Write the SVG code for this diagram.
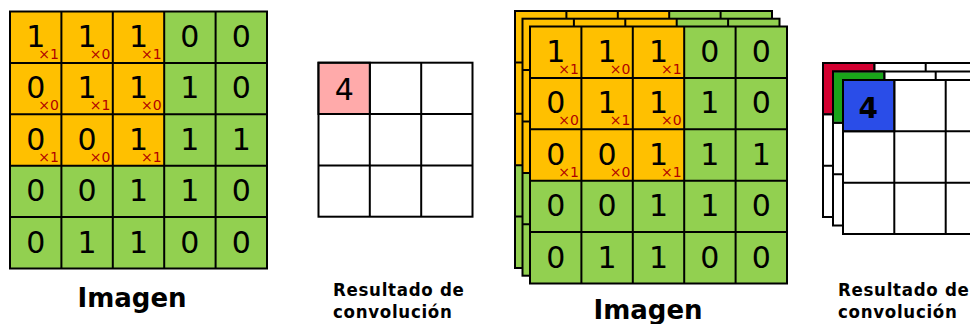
<svg xmlns="http://www.w3.org/2000/svg" width="970" height="324" viewBox="0 0 970 324">
<style>
.o{fill:#ffc000}
.g{fill:#92d050}
.ln{fill:none;stroke:#000;stroke-width:2}
.d{font-family:"DejaVu Sans",sans-serif;font-size:30px;fill:#000;text-anchor:middle}
.s{font-family:"DejaVu Sans",sans-serif;font-size:14px;fill:#b00000;text-anchor:end}
.lbl{font-family:"DejaVu Sans",sans-serif;font-weight:bold;fill:#000}
.sm{font-family:"DejaVu Sans Condensed","DejaVu Sans",sans-serif;font-weight:bold;font-size:18.5px;letter-spacing:0.7px;fill:#000}
</style>
<defs>
<g id="img5">
<rect class="g" x="0" y="0" width="257" height="257"/>
<rect class="o" x="0" y="0" width="154.2" height="154.2"/>
<path class="ln" d="M51.4 0V257M102.8 0V257M154.2 0V257M205.6 0V257M0 51.4H257M0 102.8H257M0 154.2H257M0 205.6H257"/>
<rect class="ln" x="0" y="0" width="257" height="257"/>
</g>
<g id="res3">
<rect x="0" y="0" width="154" height="154" fill="#fff"/>
<path class="ln" d="M51.3 0V154M102.7 0V154M0 51.3H154M0 102.7H154"/>
<rect class="ln" x="0" y="0" width="154" height="154"/>
</g>
<g id="vals">
<text class="d" x="25.7" y="35.5">1</text><text class="d" x="77.1" y="35.5">1</text><text class="d" x="128.5" y="35.5">1</text><text class="d" x="179.9" y="35.5">0</text><text class="d" x="231.3" y="35.5">0</text>
<text class="d" x="25.7" y="86.9">0</text><text class="d" x="77.1" y="86.9">1</text><text class="d" x="128.5" y="86.9">1</text><text class="d" x="179.9" y="86.9">1</text><text class="d" x="231.3" y="86.9">0</text>
<text class="d" x="25.7" y="138.3">0</text><text class="d" x="77.1" y="138.3">0</text><text class="d" x="128.5" y="138.3">1</text><text class="d" x="179.9" y="138.3">1</text><text class="d" x="231.3" y="138.3">1</text>
<text class="d" x="25.7" y="189.7">0</text><text class="d" x="77.1" y="189.7">0</text><text class="d" x="128.5" y="189.7">1</text><text class="d" x="179.9" y="189.7">1</text><text class="d" x="231.3" y="189.7">0</text>
<text class="d" x="25.7" y="241.1">0</text><text class="d" x="77.1" y="241.1">1</text><text class="d" x="128.5" y="241.1">1</text><text class="d" x="179.9" y="241.1">0</text><text class="d" x="231.3" y="241.1">0</text>
<text class="s" x="48.9" y="47.4">×1</text><text class="s" x="100.3" y="47.4">×0</text><text class="s" x="151.7" y="47.4">×1</text>
<text class="s" x="48.9" y="98.8">×0</text><text class="s" x="100.3" y="98.8">×1</text><text class="s" x="151.7" y="98.8">×0</text>
<text class="s" x="48.9" y="150.2">×1</text><text class="s" x="100.3" y="150.2">×0</text><text class="s" x="151.7" y="150.2">×1</text>
</g>
</defs>

<g id="imagen1" transform="translate(10,11.5)">
<use href="#img5"/>
<use href="#vals"/>
</g>

<g id="resultado1" transform="translate(318.5,62.7)">
<use href="#res3"/>
<rect x="1" y="1" width="49.3" height="49.3" fill="#ffaaaa"/>
<path class="ln" d="M0 0H51.3V51.3H0Z"/>
<text class="d" x="25.7" y="37">4</text>
</g>

<g id="imagen2">
<g transform="translate(515,11)"><use href="#img5"/></g>
<g transform="translate(522.5,18.7)"><use href="#img5"/></g>
<g transform="translate(530,26.5)"><use href="#img5"/><use href="#vals"/></g>
</g>

<g id="resultado2">
<g transform="translate(823,63)"><use href="#res3"/><rect x="1" y="1" width="49.3" height="49.3" fill="#d20030"/><path class="ln" d="M0 0H51.3V51.3H0Z"/></g>
<g transform="translate(833,71.5)"><use href="#res3"/><rect x="1" y="1" width="49.3" height="49.3" fill="#1aa51a"/><path class="ln" d="M0 0H51.3V51.3H0Z"/></g>
<g transform="translate(843,80)"><use href="#res3"/><rect x="1" y="1" width="49.3" height="49.3" fill="#2a4de8"/><path class="ln" d="M0 0H51.3V51.3H0Z"/>
<text class="d" x="25.2" y="38" style="font-weight:bold;font-size:28px">4</text></g>
</g>

<g id="labels">
<text class="lbl" x="132" y="307" font-size="26" text-anchor="middle">Imagen</text>
<text class="lbl" x="648" y="319" font-size="26" text-anchor="middle">Imagen</text>
<text class="sm" x="333" y="296">Resultado de</text>
<text class="sm" x="333" y="318">convolución</text>
<text class="sm" x="838" y="296">Resultado de</text>
<text class="sm" x="838" y="318">convolución</text>
</g>
</svg>
